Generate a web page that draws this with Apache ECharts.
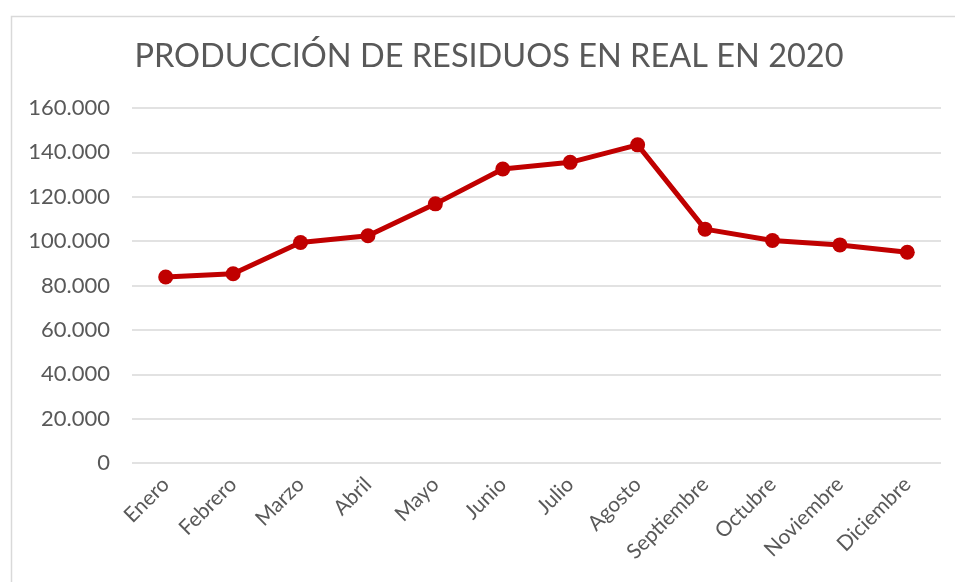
<!DOCTYPE html>
<html>
<head>
<meta charset="utf-8">
<script src="https://cdn.jsdelivr.net/npm/echarts@6/dist/echarts.min.js"></script>
<style>
  html, body { margin: 0; padding: 0; background: #fff; }
  #chart { width: 955px; height: 582px; }
</style>
</head>
<body>
<div id="chart"></div>
<script>
const months = ['Enero', 'Febrero', 'Marzo', 'Abril', 'Mayo', 'Junio',
    'Julio', 'Agosto', 'Septiembre', 'Octubre', 'Noviembre', 'Diciembre'];
const residuos = [83800, 85300, 99400, 102400, 116800, 132500,
    135500, 143400, 105400, 100300, 98300, 95000];
const yMin = 0;
const yMax = 160000;
const yStep = 20000;

const font = 'Lato, "Noto Sans", sans-serif';
const grey = '#595959';

function fmtThousands(v) {
    return String(v).replace(/\B(?=(\d{3})+(?!\d))/g, '.');
}

const chart = echarts.init(document.getElementById('chart'));

chart.setOption({
    backgroundColor: '#fff',
    animation: false,
    graphic: [{
        type: 'rect',
        left: 9, top: 14,
        shape: { width: 980, height: 600 },
        style: { fill: 'none', stroke: '#d9d9d9', lineWidth: 1.5 },
        silent: true
    }],
    title: {
        text: 'PRODUCCIÓN DE RESIDUOS EN REAL EN 2020',
        left: 484,
        top: 35,
        textAlign: 'center',
        textStyle: { fontFamily: font, fontSize: 32.5, fontWeight: 'normal', color: grey }
    },
    grid: { left: 132, right: 14, top: 108, bottom: 119 },
    xAxis: {
        type: 'category',
        data: months,
        boundaryGap: true,
        axisLine: { show: false },
        axisTick: { show: false },
        axisLabel: {
            rotate: 45,
            margin: 18,
            interval: 0,
            fontFamily: font,
            fontSize: 21,
            color: grey
        }
    },
    yAxis: {
        type: 'value',
        min: yMin,
        max: yMax,
        interval: yStep,
        axisLine: { show: false },
        axisTick: { show: false },
        splitLine: { lineStyle: { color: '#d9d9d9', width: 1.5 } },
        axisLabel: {
            margin: 22,
            fontFamily: font,
            fontSize: 22,
            color: grey,
            formatter: fmtThousands
        }
    },
    series: [{
        type: 'line',
        data: residuos,
        symbol: 'circle',
        symbolSize: 15,
        lineStyle: { color: '#c00000', width: 5 },
        itemStyle: { color: '#c00000' }
    }]
});
</script>
</body>
</html>
